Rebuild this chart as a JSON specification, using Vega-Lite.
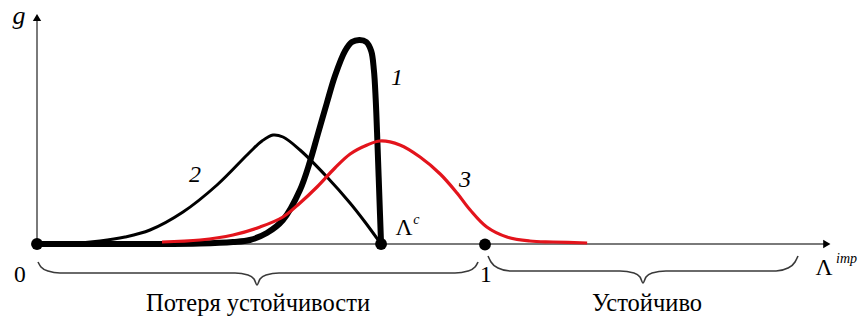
{
  "$schema": "https://vega.github.io/schema/vega-lite/v6.json",
  "width": 858,
  "height": 320,
  "padding": 0,
  "autosize": {"type": "fit", "contains": "padding"},
  "background": "white",
  "config": {"view": {"stroke": null}},
  "datasets": {
    "curves": [
      {"curve": "1", "u": 0.0, "g": 0.0},
      {"curve": "1", "u": 0.252, "g": 0.0},
      {"curve": "1", "u": 0.364, "g": 0.005},
      {"curve": "1", "u": 0.4375, "g": 0.02},
      {"curve": "1", "u": 0.475, "g": 0.04},
      {"curve": "1", "u": 0.513, "g": 0.11},
      {"curve": "1", "u": 0.549, "g": 0.24},
      {"curve": "1", "u": 0.587, "g": 0.54},
      {"curve": "1", "u": 0.609, "g": 0.82},
      {"curve": "1", "u": 0.627, "g": 1.1},
      {"curve": "1", "u": 0.647, "g": 1.41},
      {"curve": "1", "u": 0.665, "g": 1.68},
      {"curve": "1", "u": 0.6875, "g": 1.93},
      {"curve": "1", "u": 0.703, "g": 2.02},
      {"curve": "1", "u": 0.72, "g": 2.04},
      {"curve": "1", "u": 0.735, "g": 2.02},
      {"curve": "1", "u": 0.746, "g": 1.93},
      {"curve": "1", "u": 0.752, "g": 1.74},
      {"curve": "1", "u": 0.756, "g": 1.45},
      {"curve": "1", "u": 0.76, "g": 1.0},
      {"curve": "1", "u": 0.764, "g": 0.5},
      {"curve": "1", "u": 0.768, "g": 0.0},

      {"curve": "2", "u": 0.0, "g": 0.0},
      {"curve": "2", "u": 0.0737, "g": 0.005},
      {"curve": "2", "u": 0.1406, "g": 0.03},
      {"curve": "2", "u": 0.1964, "g": 0.07},
      {"curve": "2", "u": 0.2522, "g": 0.14},
      {"curve": "2", "u": 0.3259, "g": 0.32},
      {"curve": "2", "u": 0.4018, "g": 0.59},
      {"curve": "2", "u": 0.4754, "g": 0.92},
      {"curve": "2", "u": 0.5022, "g": 1.03},
      {"curve": "2", "u": 0.5268, "g": 1.09},
      {"curve": "2", "u": 0.5491, "g": 1.07},
      {"curve": "2", "u": 0.5871, "g": 0.94},
      {"curve": "2", "u": 0.6473, "g": 0.67},
      {"curve": "2", "u": 0.6987, "g": 0.41},
      {"curve": "2", "u": 0.7321, "g": 0.22},
      {"curve": "2", "u": 0.7679, "g": 0.0},

      {"curve": "3", "u": 0.279, "g": 0.02},
      {"curve": "3", "u": 0.364, "g": 0.04},
      {"curve": "3", "u": 0.4375, "g": 0.09},
      {"curve": "3", "u": 0.498, "g": 0.17},
      {"curve": "3", "u": 0.549, "g": 0.27},
      {"curve": "3", "u": 0.587, "g": 0.41},
      {"curve": "3", "u": 0.625, "g": 0.57},
      {"curve": "3", "u": 0.665, "g": 0.76},
      {"curve": "3", "u": 0.699, "g": 0.9},
      {"curve": "3", "u": 0.737, "g": 0.99},
      {"curve": "3", "u": 0.766, "g": 1.03},
      {"curve": "3", "u": 0.81, "g": 0.99},
      {"curve": "3", "u": 0.855, "g": 0.87},
      {"curve": "3", "u": 0.9, "g": 0.7},
      {"curve": "3", "u": 0.9375, "g": 0.51},
      {"curve": "3", "u": 0.967, "g": 0.34},
      {"curve": "3", "u": 1.004, "g": 0.17},
      {"curve": "3", "u": 1.049, "g": 0.07},
      {"curve": "3", "u": 1.1, "g": 0.03},
      {"curve": "3", "u": 1.152, "g": 0.02},
      {"curve": "3", "u": 1.228, "g": 0.01}
    ],
    "braces": [
      {"brace": "left", "u": 0.0022, "g": -0.18},
      {"brace": "left", "u": 0.0089, "g": -0.23},
      {"brace": "left", "u": 0.0246, "g": -0.27},
      {"brace": "left", "u": 0.0513, "g": -0.29},
      {"brace": "left", "u": 0.442, "g": -0.29},
      {"brace": "left", "u": 0.471, "g": -0.31},
      {"brace": "left", "u": 0.4844, "g": -0.35},
      {"brace": "left", "u": 0.4911, "g": -0.41},
      {"brace": "left", "u": 0.4978, "g": -0.35},
      {"brace": "left", "u": 0.5112, "g": -0.31},
      {"brace": "left", "u": 0.5402, "g": -0.29},
      {"brace": "left", "u": 0.933, "g": -0.29},
      {"brace": "left", "u": 0.9621, "g": -0.27},
      {"brace": "left", "u": 0.9777, "g": -0.23},
      {"brace": "left", "u": 0.9844, "g": -0.18},
      {"brace": "right", "u": 1.0067, "g": -0.12},
      {"brace": "right", "u": 1.0134, "g": -0.18},
      {"brace": "right", "u": 1.029, "g": -0.24},
      {"brace": "right", "u": 1.0558, "g": -0.27},
      {"brace": "right", "u": 1.3013, "g": -0.27},
      {"brace": "right", "u": 1.3326, "g": -0.29},
      {"brace": "right", "u": 1.346, "g": -0.33},
      {"brace": "right", "u": 1.3527, "g": -0.39},
      {"brace": "right", "u": 1.3594, "g": -0.33},
      {"brace": "right", "u": 1.3728, "g": -0.29},
      {"brace": "right", "u": 1.404, "g": -0.27},
      {"brace": "right", "u": 1.6496, "g": -0.27},
      {"brace": "right", "u": 1.6763, "g": -0.24},
      {"brace": "right", "u": 1.692, "g": -0.18},
      {"brace": "right", "u": 1.6987, "g": -0.12}
    ]
  },
  "encoding": {
    "x": {"field": "u", "type": "quantitative", "axis": null,
          "scale": {"domain": [-0.0826, 1.8326], "nice": false, "zero": false}},
    "y": {"field": "g", "type": "quantitative", "axis": null,
          "scale": {"domain": [-0.76, 2.44], "nice": false, "zero": false}}
  },
  "layer": [
    {
      "description": "horizontal axis line",
      "data": {"values": [{"u": 0, "g": 0}, {"u": 1.76, "g": 0}]},
      "mark": {"type": "line", "color": "#7a7a7a", "strokeWidth": 2}
    },
    {
      "description": "vertical axis line",
      "data": {"values": [{"u": 0, "g": 0}, {"u": 0, "g": 2.25}]},
      "mark": {"type": "line", "color": "#7a7a7a", "strokeWidth": 2},
      "encoding": {"order": {"field": "g"}}
    },
    {
      "data": {"values": [{"u": 1.763, "g": 0}]},
      "mark": {"type": "point", "shape": "triangle-right", "filled": true, "color": "black", "size": 70, "opacity": 1}
    },
    {
      "data": {"values": [{"u": 0, "g": 2.265}]},
      "mark": {"type": "point", "shape": "triangle-up", "filled": true, "color": "black", "size": 70, "opacity": 1}
    },
    {
      "data": {"name": "braces"},
      "mark": {"type": "line", "color": "#3a3a3a", "strokeWidth": 1.6, "interpolate": "monotone"},
      "encoding": {"detail": {"field": "brace"}}
    },
    {
      "data": {"name": "curves"},
      "transform": [{"filter": "datum.curve === '2'"}],
      "mark": {"type": "line", "color": "black", "strokeWidth": 3, "interpolate": "catmull-rom"}
    },
    {
      "data": {"name": "curves"},
      "transform": [{"filter": "datum.curve === '1'"}],
      "mark": {"type": "line", "color": "black", "strokeWidth": 6, "interpolate": "catmull-rom", "strokeCap": "round", "strokeJoin": "round"}
    },
    {
      "data": {"name": "curves"},
      "transform": [{"filter": "datum.curve === '3'"}],
      "mark": {"type": "line", "color": "#e3141c", "strokeWidth": 3.2, "interpolate": "catmull-rom"}
    },
    {
      "data": {"values": [{"u": 0, "g": 0}, {"u": 0.768, "g": 0}, {"u": 1.0, "g": -0.005}]},
      "mark": {"type": "point", "shape": "circle", "filled": true, "color": "black", "size": 140, "opacity": 1}
    },
    {
      "description": "vertical axis name",
      "data": {"values": [{"t": "g", "u": -0.0402, "g": 2.28}]},
      "mark": {"type": "text", "font": "Liberation Serif", "fontStyle": "italic", "fontSize": 26, "color": "black", "align": "center", "baseline": "middle"},
      "encoding": {"text": {"field": "t"}}
    },
    {
      "description": "curve numbers",
      "data": {"values": [
        {"t": "1", "u": 0.8036, "g": 1.66},
        {"t": "2", "u": 0.3527, "g": 0.69},
        {"t": "3", "u": 0.9554, "g": 0.64}
      ]},
      "mark": {"type": "text", "font": "Liberation Serif", "fontStyle": "italic", "fontSize": 24, "color": "black", "align": "center", "baseline": "middle"},
      "encoding": {"text": {"field": "t"}}
    },
    {
      "description": "superscripts",
      "data": {"values": [
        {"t": "c", "u": 0.847, "g": 0.245},
        {"t": "imp", "u": 1.807, "g": -0.145}
      ]},
      "mark": {"type": "text", "font": "Liberation Serif", "fontStyle": "italic", "fontSize": 14, "color": "black", "align": "center", "baseline": "middle"},
      "encoding": {"text": {"field": "t"}}
    },
    {
      "description": "symbol and tick labels",
      "data": {"values": [
        {"t": "Λ", "u": 0.819, "g": 0.165},
        {"t": "0", "u": -0.038, "g": -0.31},
        {"t": "1", "u": 1.002, "g": -0.31},
        {"t": "Λ", "u": 1.757, "g": -0.24}
      ]},
      "mark": {"type": "text", "font": "Liberation Serif", "fontSize": 23.5, "color": "black", "align": "center", "baseline": "middle"},
      "encoding": {"text": {"field": "t"}}
    },
    {
      "description": "region captions",
      "data": {"values": [
        {"t": "Потеря устойчивости", "u": 0.4933, "g": -0.6},
        {"t": "Устойчиво", "u": 1.3616, "g": -0.6}
      ]},
      "mark": {"type": "text", "font": "Liberation Serif", "fontSize": 24.5, "color": "black", "align": "center", "baseline": "middle"},
      "encoding": {"text": {"field": "t"}}
    }
  ]
}
